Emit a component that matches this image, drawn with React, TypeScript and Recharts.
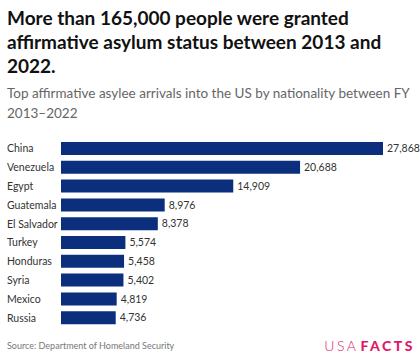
import { BarChart, Bar, XAxis, YAxis, LabelList } from 'recharts'

const countries = ['China', 'Venezuela', 'Egypt', 'Guatemala', 'El Salvador', 'Turkey', 'Honduras', 'Syria', 'Mexico', 'Russia']
const arrivals = [27868, 20688, 14909, 8976, 8378, 5574, 5458, 5402, 4819, 4736]

const data = countries.map((name, i) => ({ name, value: arrivals[i] }))

const FONT = 'Lato, "Noto Sans", sans-serif'

function CountryTick(props: any) {
  const { y, payload } = props
  return (
    <text x={7} y={y} dy={4} textAnchor="start" fontSize={10.5} fill="#333" fontFamily={FONT}>
      {payload.value}
    </text>
  )
}

export default function App() {
  return (
    <div style={{ position: 'absolute', left: 0, top: 0, width: 420, height: 360, background: '#fff', fontFamily: FONT }}>
      <div style={{ position: 'absolute', left: 7, top: 6, width: 410, fontSize: 19, fontWeight: 700, lineHeight: '24px', color: '#111' }}>
        More than 165,000 people were granted affirmative asylum status between 2013 and 2022.
      </div>
      <div style={{ position: 'absolute', left: 7, top: 83, width: 410, fontSize: 13.5, lineHeight: '20px', color: '#666' }}>
        Top affirmative asylee arrivals into the US by nationality between FY 2013–2022
      </div>
      <div style={{ position: 'absolute', left: 0, top: 139 }}>
        <BarChart
          width={420}
          height={188}
          data={data}
          layout="vertical"
          margin={{ top: 0, right: 37, bottom: 0, left: 0 }}
          barCategoryGap={3}
        >
          <XAxis type="number" hide domain={[0, 'dataMax']} />
          <YAxis type="category" dataKey="name" width={61} axisLine={false} tickLine={false} tick={<CountryTick />} interval={0} />
          <Bar dataKey="value" fill="#0b2f7c" isAnimationActive={false}>
            <LabelList
              dataKey="value"
              position="right"
              offset={4}
              fill="#333"
              fontSize={10.5}
              fontFamily={FONT}
              formatter={(v: any) => Number(v).toLocaleString('en-US')}
            />
          </Bar>
        </BarChart>
      </div>
      <div style={{ position: 'absolute', left: 7, top: 340, fontSize: 9, color: '#777' }}>
        Source: Department of Homeland Security
      </div>
      <div style={{ position: 'absolute', right: 5, top: 337, fontSize: 14, lineHeight: '18px', color: '#e0186c', letterSpacing: 2.5, fontFamily: 'Lato, sans-serif' }}>
        <span style={{ fontWeight: 300 }}>USA</span>
        <span style={{ fontWeight: 900, marginLeft: 2 }}>FACTS</span>
      </div>
    </div>
  )
}
